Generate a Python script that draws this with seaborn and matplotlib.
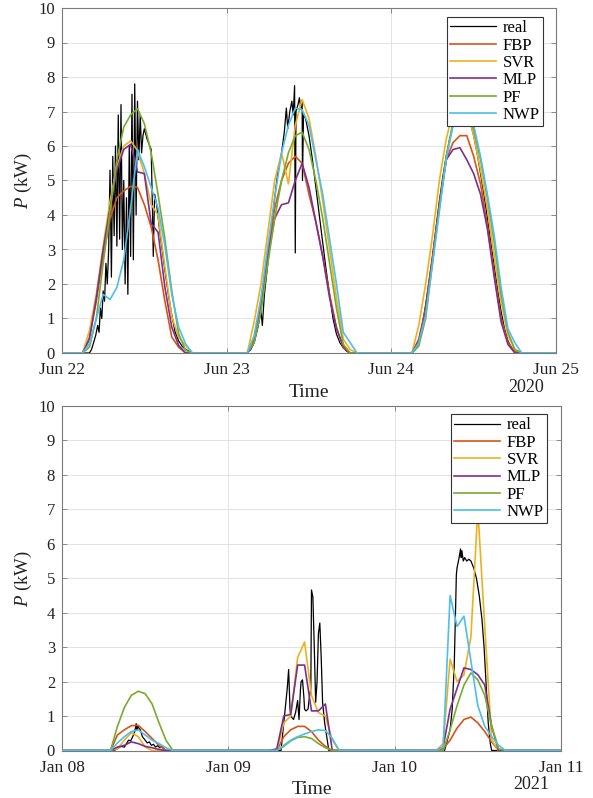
import numpy as np
import pandas as pd
import matplotlib
matplotlib.use("Agg")
import matplotlib.pyplot as plt
import matplotlib.dates as mdates
import seaborn as sns

# ---------------- data ----------------
SERIES = ["real", "FBP", "SVR", "MLP", "PF", "NWP"]
COLORS = ["#000000", "#D95319", "#EDB120", "#7E2F8E", "#77AC30", "#4DBEEE"]

# forecast values at hours 3..19 of each of the three days
FC_HOURS = [3, 4, 5, 6, 7, 8, 9, 10, 11, 12, 13, 14, 15, 16, 17, 18, 19]

# ---- June 2020 panel ----
jun_start = "2020-06-22"
jun_year = "2020"
jun_fbp = [0, 0.45, 1.5, 2.8, 3.9, 4.5, 4.7, 4.83, 4.8, 4.3, 3.65, 2.7, 1.5, 0.46, 0.17, 0, 0,
           0, 0.4, 1.4, 2.9, 4.2, 5.0, 5.5, 5.7, 5.5, 4.6, 3.8, 2.8, 1.7, 0.75, 0.15, 0, 0,
           0, 0.4, 1.3, 2.8, 4.3, 5.6, 6.1, 6.3, 6.3, 5.7, 4.9, 3.7, 2.3, 1.0, 0.3, 0.05, 0]
jun_svr = [0, 0.65, 1.7, 3.1, 4.4, 5.4, 6.0, 6.15, 5.87, 5.2, 4.3, 4.0, 2.5, 1.05, 0.46, 0.22, 0,
           0, 0.9, 2.0, 3.5, 5.0, 5.8, 4.9, 6.6, 7.35, 6.8, 5.7, 4.4, 3.0, 1.6, 0.4, 0.1, 0,
           0, 0.8, 2.0, 3.4, 5.0, 6.2, 7.0, 7.2, 7.1, 6.3, 5.3, 4.2, 2.8, 1.5, 0.5, 0.1, 0]
jun_mlp = [0, 0.4, 1.6, 3.0, 4.2, 5.3, 5.9, 6.05, 5.25, 5.2, 3.75, 3.5, 1.9, 0.75, 0.22, 0, 0,
           0, 0.3, 1.3, 2.8, 3.9, 4.3, 4.35, 5.0, 5.5, 4.8, 3.8, 2.8, 1.6, 0.7, 0.2, 0, 0,
           0, 0.35, 1.2, 2.7, 4.3, 5.6, 5.9, 5.95, 5.6, 5.2, 4.6, 3.6, 2.2, 0.9, 0.25, 0, 0]
jun_pf = [0, 0.17, 1.0, 2.6, 4.1, 5.6, 6.55, 6.9, 7.08, 6.65, 5.8, 4.6, 3.3, 1.8, 0.56, 0.08, 0,
          0, 0.3, 1.2, 2.6, 3.9, 5.0, 5.8, 6.3, 6.4, 5.9, 5.0, 3.9, 2.6, 1.3, 0.25, 0, 0,
          0, 0.2, 1.0, 2.6, 4.2, 5.7, 6.7, 7.0, 6.9, 6.5, 5.6, 4.5, 3.2, 1.7, 0.6, 0.1, 0]
jun_nwp = [0, 0.27, 1.0, 1.7, 1.55, 1.9, 2.7, 4.2, 5.9, 5.4, 4.8, 4.2, 3.1, 1.7, 0.75, 0.27, 0,
           0, 0.5, 1.6, 3.1, 4.5, 5.8, 6.6, 7.1, 7.05, 6.6, 5.6, 4.6, 3.3, 2.0, 0.6, 0.3, 0,
           0, 0.3, 1.1, 2.6, 4.1, 5.6, 6.6, 7.0, 7.0, 6.6, 5.7, 4.6, 3.4, 1.9, 0.7, 0.3, 0]
# measured power: hours since panel start, kW
jun_real_h = [0, 4.0, 4.3, 4.6, 4.9, 5.2, 5.4, 5.6, 5.8, 6.0, 6.2, 6.4, 6.6, 6.8, 7.0, 7.2, 7.4,
              7.6, 7.8, 8.0, 8.2, 8.4, 8.6, 8.8, 9.0, 9.2, 9.4, 9.6, 9.8, 10.0, 10.2, 10.4, 10.6,
              10.8, 11.0, 11.2, 11.4, 11.6, 11.8, 12.0, 12.4, 12.8, 13.0, 13.2, 13.3, 13.5, 13.8,
              14.2, 14.6, 15.0, 15.5, 16.0, 16.5, 17.0, 17.5, 18.0, 18.6, 19.0,
              27.0, 27.5, 28.0, 28.5, 29.0, 29.2, 29.5, 30.0, 30.5, 31.0, 31.5, 32.0, 32.4, 32.7,
              32.9, 33.2, 33.5, 33.7, 33.9, 34.0, 34.1, 34.4, 34.6, 34.8, 35.0, 35.05, 35.2, 35.5,
              36.0, 36.5, 37.0, 37.5, 38.0, 38.5, 39.0, 39.5, 40.0, 40.5, 41.0, 41.5, 42.0,
              51.0, 51.5, 52.0, 52.5, 53.0, 53.5, 54.0, 54.5, 55.0, 55.5, 56.0, 56.5, 57.0, 57.5,
              58.0, 58.5, 59.0, 59.5, 60.0, 60.5, 61.0, 61.5, 62.0, 62.5, 63.0, 63.5, 64.0, 64.5,
              65.0, 65.5, 66.0, 66.5, 72.0]
jun_real_p = [0, 0, 0.1, 0.3, 0.5, 0.8, 0.6, 1.3, 1.0, 1.8, 1.5, 2.6, 2.0, 3.0, 5.3, 2.2, 5.7,
              3.4, 6.0, 3.1, 6.9, 3.3, 7.2, 3.0, 5.0, 2.0, 4.5, 1.7, 6.0, 2.8, 7.5, 2.7, 7.8,
              4.0, 7.3, 5.6, 6.9, 5.8, 6.3, 6.5, 6.2, 6.0, 5.9, 4.0, 2.8, 4.6, 4.3,
              3.6, 3.0, 2.4, 1.7, 1.1, 0.6, 0.35, 0.2, 0.1, 0.05, 0,
              0, 0.1, 0.3, 0.7, 1.2, 0.8, 1.7, 2.6, 3.5, 4.5, 5.3, 5.8, 6.4, 7.1,
              6.5, 7.0, 7.3, 6.9, 7.75, 2.9, 7.0, 7.2, 7.4, 7.1, 7.3, 5.0, 6.9, 6.8,
              6.3, 5.6, 4.8, 4.0, 3.2, 2.4, 1.7, 1.0, 0.55, 0.3, 0.15, 0.05, 0,
              0, 0.1, 0.35, 0.8, 1.4, 2.1, 2.8, 3.6, 4.4, 5.1, 5.7, 6.2, 6.6, 6.9,
              7.0, 7.05, 6.95, 6.7, 6.3, 5.8, 5.2, 4.6, 3.9, 3.2, 2.5, 1.8, 1.2, 0.7,
              0.35, 0.15, 0.05, 0, 0]

# ---- January 2021 panel ----
jan_start = "2021-01-08"
jan_year = "2021"
jan_fbp = [0, 0, 0, 0, 0, 0.45, 0.6, 0.72, 0.73, 0.55, 0.35, 0.15, 0, 0, 0, 0, 0,
           0, 0, 0, 0, 0, 0.4, 0.6, 0.7, 0.7, 0.55, 0.3, 0.12, 0, 0, 0, 0, 0,
           0, 0, 0, 0, 0.05, 0.3, 0.65, 0.9, 0.97, 0.8, 0.55, 0.25, 0, 0, 0, 0, 0]
jan_svr = [0, 0, 0, 0, 0, 0.05, 0.3, 0.52, 0.4, 0.1, 0, 0, 0, 0, 0, 0, 0,
           0, 0, 0, 0, 0, 0.8, 1.0, 2.7, 3.15, 1.6, 1.1, 1.0, 0.3, 0, 0, 0, 0,
           0, 0, 0, 0, 0.2, 2.65, 2.0, 2.2, 3.3, 7.0, 3.6, 0.3, 0, 0, 0, 0, 0]
jan_mlp = [0, 0, 0, 0, 0, 0.1, 0.15, 0.25, 0.2, 0.12, 0.08, 0.03, 0, 0, 0, 0, 0,
           0, 0, 0, 0, 0.05, 1.0, 1.05, 2.48, 2.48, 1.15, 1.15, 1.35, 0, 0, 0, 0, 0,
           0, 0, 0, 0, 0.1, 1.2, 1.8, 2.4, 2.35, 2.2, 1.9, 0.7, 0, 0, 0, 0, 0]
jan_pf = [0, 0, 0, 0, 0, 0.7, 1.25, 1.6, 1.72, 1.65, 1.35, 0.8, 0.3, 0, 0, 0, 0,
          0, 0, 0, 0, 0, 0.12, 0.28, 0.38, 0.4, 0.35, 0.2, 0.08, 0, 0, 0, 0, 0,
          0, 0, 0, 0, 0, 0.6, 1.3, 1.9, 2.25, 2.05, 1.6, 0.7, 0.05, 0, 0, 0, 0]
jan_nwp = [0, 0, 0, 0, 0, 0.22, 0.4, 0.55, 0.6, 0.45, 0.3, 0.2, 0.08, 0, 0, 0, 0,
           0, 0, 0, 0, 0, 0.15, 0.3, 0.4, 0.48, 0.55, 0.6, 0.58, 0.35, 0, 0, 0, 0,
           0, 0, 0, 0, 0.1, 4.5, 3.6, 3.9, 2.6, 1.3, 0.7, 0.4, 0.15, 0, 0, 0, 0]
jan_real_h = [0, 7.5, 8.0, 8.5, 9.0, 9.3, 9.6, 9.9, 10.2, 10.5, 10.7, 10.8, 10.9, 11.1, 11.3,
              11.6, 12.0, 12.3, 12.6, 12.9, 13.2, 13.5, 13.8, 14.1, 14.4, 14.7, 15.0,
              31.6, 31.9, 32.2, 32.5, 32.7, 32.9, 33.0, 33.4, 33.7, 34.0, 34.2, 34.4, 34.5, 34.7,
              34.9, 35.0, 35.2, 35.5, 35.7, 35.9, 36.0, 36.2, 36.4, 36.6, 36.8, 37.0, 37.2,
              37.4, 37.6, 37.9, 38.2, 38.5,
              55.2, 55.6, 56.0, 56.3, 56.6, 56.8, 56.9, 57.0, 57.3, 57.5, 57.6, 57.7, 57.9,
              58.1, 58.4, 58.7, 59.0, 59.4, 59.8, 60.2, 60.6, 60.9, 61.2, 61.5, 61.8, 62.0, 72.0]
jan_real_p = [0, 0, 0.05, 0.12, 0.1, 0.2, 0.3, 0.28, 0.4, 0.55, 0.78, 0.6, 0.72, 0.65, 0.6,
              0.4, 0.3, 0.22, 0.25, 0.15, 0.18, 0.1, 0.14, 0.08, 0.12, 0.05, 0,
              0, 0.6, 1.2, 1.8, 2.35, 1.2, 1.0, 0.9, 1.1, 1.45, 0.9, 1.75, 2.0, 2.05,
              1.55, 1.2, 1.15, 1.2, 1.55, 1.8, 4.66, 4.45, 3.0, 1.4, 2.0, 3.4, 3.7,
              2.7, 1.4, 0.8, 0.4, 0,
              0, 0.3, 0.6, 1.2, 2.5, 4.2, 5.1, 5.3, 5.6, 5.85, 5.6, 5.8, 5.5,
              5.6, 5.5, 5.55, 5.5, 5.3, 5.0, 4.5, 3.8, 3.0, 1.9, 0.8, 0.2, 0, 0]

# ---------------- styling ----------------
plt.rcParams["font.family"] = ["Liberation Serif", "DejaVu Serif"]
plt.rcParams["mathtext.fontset"] = "custom"
plt.rcParams["mathtext.rm"] = "Liberation Serif"
plt.rcParams["mathtext.it"] = "Liberation Serif:italic"

fig = plt.figure(figsize=(5.93, 7.98), dpi=100)
ax_top = fig.add_axes([62 / 593, 1 - 353 / 798, 494 / 593, 345 / 798])
ax_bot = fig.add_axes([62 / 593, 1 - 750.5 / 798, 499 / 593, 344.5 / 798])


def forecast_frame(start, values):
    hours = [0.0] + [24 * d + h for d in range(3) for h in FC_HOURS] + [72.0]
    vals = [0.0] + list(values) + [0.0]
    t = pd.Timestamp(start) + pd.to_timedelta(hours, unit="h")
    return pd.DataFrame({"time": t, "P": vals})


def real_frame(start, hours, values):
    t = pd.Timestamp(start) + pd.to_timedelta(hours, unit="h")
    return pd.DataFrame({"time": t, "P": values})


def draw(ax, start, year, real_h, real_p, fcs, leg_right, leg_top):
    frames = [real_frame(start, real_h, real_p)] + [forecast_frame(start, f) for f in fcs]
    for i, (name, col, df) in enumerate(zip(SERIES, COLORS, frames)):
        sns.lineplot(data=df, x="time", y="P", color=col, label=name, ax=ax,
                     estimator=None, sort=False, linewidth=0.9 if i == 0 else 1.2,
                     zorder=2 + i)
    s = pd.Timestamp(start)
    ticks = [s + pd.Timedelta(days=d) for d in range(4)]
    ax.set_xlim(ticks[0], ticks[-1])
    ax.set_ylim(0, 10)
    ax.set_xticks(ticks)
    ax.xaxis.set_major_formatter(mdates.DateFormatter("%b %d"))
    ax.set_yticks(range(0, 11))
    ax.grid(True, color="#e3e3e3", linewidth=0.7)
    ax.set_axisbelow(True)
    for sp in ax.spines.values():
        sp.set_color("#7a7a7a")
        sp.set_linewidth(0.8)
    ax.tick_params(direction="in", length=3.5, width=0.6, color="#7a7a7a",
                   top=True, right=True, labelcolor="#222222")
    ax.tick_params(axis="x", labelsize=12.5, pad=6.5)
    ax.tick_params(axis="y", labelsize=12, pad=5)
    ax.set_xlabel("Time", fontsize=14, labelpad=4, color="#222222")
    ax.set_ylabel("$P$ (kW)", fontsize=13.5, labelpad=3, color="#222222")
    ax.text(0.94, -0.1, year, transform=ax.transAxes, ha="center", va="center",
            fontsize=13, color="#222222")
    leg = ax.legend(loc="upper right", bbox_to_anchor=(leg_right, leg_top), borderaxespad=0,
                    fontsize=12, handlelength=2.75, handletextpad=0.4, labelspacing=0.08,
                    borderpad=0.2, fancybox=False, framealpha=1, edgecolor="#333333")
    leg.get_frame().set_linewidth(0.8)
    leg.set_zorder(20)


draw(ax_top, jun_start, jun_year, jun_real_h, jun_real_p,
     [jun_fbp, jun_svr, jun_mlp, jun_pf, jun_nwp], (543 - 62) / 494, (353 - 17) / 345)
draw(ax_bot, jan_start, jan_year, jan_real_h, jan_real_p,
     [jan_fbp, jan_svr, jan_mlp, jan_pf, jan_nwp], (547 - 62) / 499, (750.5 - 414) / 344.5)

fig.savefig("out.png", dpi=100)
